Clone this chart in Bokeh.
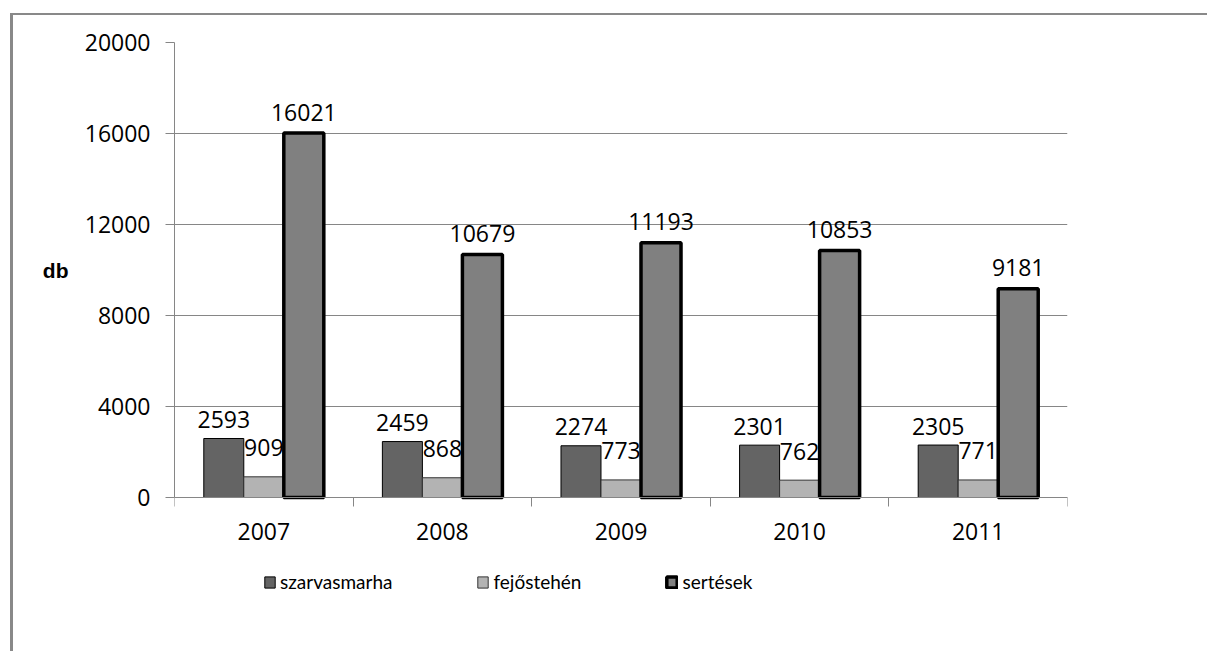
import numpy as np
from bokeh.plotting import figure
from bokeh.models import (Range1d, FixedTicker, ColumnDataSource, Legend, LegendItem, LinearAxis)
from bokeh.core.properties import value
from bokeh.embed import file_html
from bokeh.resources import INLINE

# ---- data ----
years = ["2007", "2008", "2009", "2010", "2011"]
szarvasmarha = [2593, 2459, 2274, 2301, 2305]
fejostehen = [909, 868, 773, 762, 771]
sertesek = [16021, 10679, 11193, 10853, 9181]
series_names = ["szarvasmarha", "fejőstehén", "sertések"]
y_ticks = [0, 4000, 8000, 12000, 16000, 20000]
y_label = "db"
Y_MAX = 20000

# ---- styles / layout ----
C_SZ = "#646464"
C_FE = "#b3b3b3"
C_SE = "#808080"
GRID = "#868686"
FRAME = "#898989"
FONT = "Open Sans"
NUM_SIZE = "23px"
BW = 0.224

W, H = 1197, 638            # figure size (page offset 13, 15 by margin + border)
FR_LEFT, FR_RIGHT, FR_TOP, FR_BOTTOM = 161, 143, 27, 58
PLOT_PX = 455               # pixels from value 0 to Y_MAX
BELOW_ZERO_PX = 98          # frame space under the value-0 line (holds the legend)
y_start = -BELOW_ZERO_PX * Y_MAX / PLOT_PX

idx = np.arange(len(years)) + 0.5

p = figure(width=W, height=H, x_range=Range1d(0, len(years)), y_range=Range1d(y_start, Y_MAX),
           output_backend="svg", toolbar_location=None,
           min_border_left=FR_LEFT, min_border_right=FR_RIGHT, min_border_top=FR_TOP, min_border_bottom=FR_BOTTOM)
p.margin = (13, 0, 0, 10)
p.styles = {"border-left": f"3px solid {FRAME}", "border-top": f"2px solid {FRAME}"}
p.outline_line_color = None
p.background_fill_color = "white"
p.border_fill_color = "white"
p.xgrid.grid_line_color = None
p.ygrid.grid_line_color = GRID
p.ygrid.grid_line_width = 1

# y axis
p.yaxis.ticker = FixedTicker(ticks=y_ticks, minor_ticks=[])
p.yaxis.bounds = (0, Y_MAX)
p.yaxis.axis_line_color = GRID
p.yaxis.major_tick_line_color = GRID
p.yaxis.major_tick_out = 9
p.yaxis.major_tick_in = 0
p.yaxis.minor_tick_line_color = None
p.yaxis.major_label_text_font = FONT
p.yaxis.major_label_text_font_size = NUM_SIZE
p.yaxis.major_label_text_color = "black"
p.yaxis.major_label_standoff = 15

# axis title "db", centred on the value axis (0..Y_MAX)
title_axis = LinearAxis(ticker=FixedTicker(ticks=[Y_MAX / 2], minor_ticks=[]),
                        major_label_overrides={Y_MAX / 2: y_label},
                        axis_line_color=None, major_tick_line_color=None, minor_tick_line_color=None,
                        major_tick_out=0, major_tick_in=0,
                        major_label_standoff=13,
                        major_label_text_font="Liberation Sans", major_label_text_font_style="bold",
                        major_label_text_font_size="21px", major_label_text_color="black")
p.add_layout(title_axis, "left")

# x axis (drawn at value 0)
p.xaxis.fixed_location = 0
p.xaxis.ticker = FixedTicker(ticks=list(idx), minor_ticks=list(range(len(years) + 1)))
p.xaxis.major_label_overrides = {float(x): y for x, y in zip(idx, years)}
p.xaxis.axis_line_color = GRID
p.xaxis.major_tick_line_color = None
p.xaxis.major_tick_out = 0
p.xaxis.major_tick_in = 0
p.xaxis.minor_tick_line_color = GRID
p.xaxis.minor_tick_out = 9
p.xaxis.minor_tick_in = 0
p.xaxis.major_label_text_font = FONT
p.xaxis.major_label_text_font_size = NUM_SIZE
p.xaxis.major_label_text_color = "black"
p.xaxis.major_label_standoff = 16

src = ColumnDataSource(dict(
    x_sz=idx - BW, x_fe=idx, x_se=idx + BW,
    sz=szarvasmarha, fe=fejostehen, se=sertesek,
    sz_t=[str(v) for v in szarvasmarha], fe_t=[str(v) for v in fejostehen], se_t=[str(v) for v in sertesek],
))

# value labels first, so the bars sit on top of them (as in the original)
for xcol, ycol, tcol, off in [("x_sz", "sz", "sz_t", -19), ("x_fe", "fe", "fe_t", -29), ("x_se", "se", "se_t", -21)]:
    p.text(x=xcol, y=ycol, text=tcol, source=src, text_align="center", text_baseline="alphabetic",
           y_offset=off, text_font=value(FONT), text_font_size=NUM_SIZE, text_color="black")

r1 = p.vbar(x="x_sz", top="sz", bottom=0, width=BW, source=src, fill_color=C_SZ, line_color="black", line_width=1)
r2 = p.vbar(x="x_fe", top="fe", bottom=0, width=BW, source=src, fill_color=C_FE, line_color="#333333", line_width=1)
r3 = p.vbar(x="x_se", top="se", bottom=0, width=BW, source=src, fill_color=C_SE, line_color="black", line_width=3.5)

legend = Legend(items=[LegendItem(label=series_names[0], renderers=[r1]),
                       LegendItem(label=series_names[1], renderers=[r2]),
                       LegendItem(label=series_names[2], renderers=[r3])],
                location=(89, 2), orientation="horizontal", spacing=84,
                glyph_width=13, glyph_height=14, label_standoff=4, label_height=14,
                label_text_font="Lato", label_text_font_size="19px", label_text_color="black",
                border_line_color=None, background_fill_alpha=0, padding=0, margin=0)
p.add_layout(legend)

open("out.html", "w").write(file_html(p, INLINE))
